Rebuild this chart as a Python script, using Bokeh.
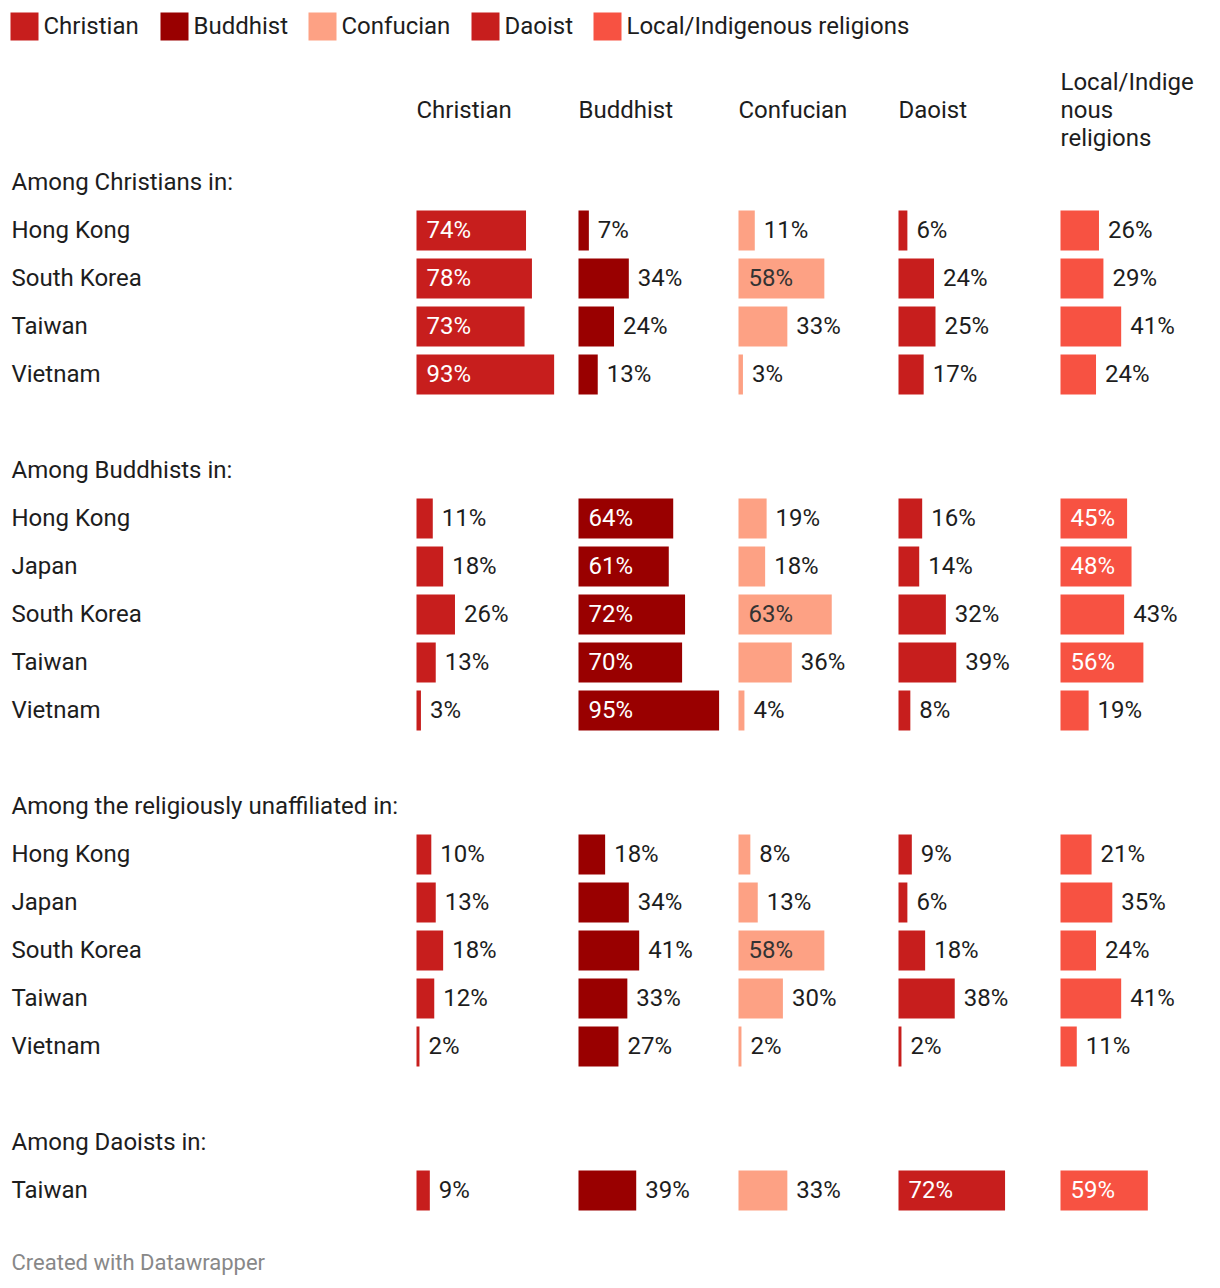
from bokeh.plotting import figure
from bokeh.models import Range1d, ColumnDataSource
from bokeh.core.properties import value
from bokeh.embed import file_html
from bokeh.resources import INLINE

# ---------------- data ----------------
religions = ["Christian", "Buddhist", "Confucian", "Daoist", "Local/Indigenous religions"]
header_lines = [["Christian"], ["Buddhist"], ["Confucian"], ["Daoist"], ["Local/Indige", "nous", "religions"]]
colors = ["#c71e1d", "#990000", "#fda184", "#c71e1d", "#f75242"]
label_inside_colors = ["#ffffff", "#ffffff", "#333333", "#ffffff", "#ffffff"]

group_titles = ["Among Christians in:", "Among Buddhists in:",
                "Among the religiously unaffiliated in:", "Among Daoists in:"]
group_rows = [
    ["Hong Kong", "South Korea", "Taiwan", "Vietnam"],
    ["Hong Kong", "Japan", "South Korea", "Taiwan", "Vietnam"],
    ["Hong Kong", "Japan", "South Korea", "Taiwan", "Vietnam"],
    ["Taiwan"],
]
christians = {
    "Christian": [74, 78, 73, 93],
    "Buddhist": [7, 34, 24, 13],
    "Confucian": [11, 58, 33, 3],
    "Daoist": [6, 24, 25, 17],
    "Local/Indigenous religions": [26, 29, 41, 24],
}
buddhists = {
    "Christian": [11, 18, 26, 13, 3],
    "Buddhist": [64, 61, 72, 70, 95],
    "Confucian": [19, 18, 63, 36, 4],
    "Daoist": [16, 14, 32, 39, 8],
    "Local/Indigenous religions": [45, 48, 43, 56, 19],
}
unaffiliated = {
    "Christian": [10, 13, 18, 12, 2],
    "Buddhist": [18, 34, 41, 33, 27],
    "Confucian": [8, 13, 58, 30, 2],
    "Daoist": [9, 6, 18, 38, 2],
    "Local/Indigenous religions": [21, 35, 24, 41, 11],
}
daoists = {
    "Christian": [9],
    "Buddhist": [39],
    "Confucian": [33],
    "Daoist": [72],
    "Local/Indigenous religions": [59],
}
group_values = [christians, buddhists, unaffiliated, daoists]

# ---------------- layout ----------------
W, H = 1204, 1280
FONT = value("Roboto")
FS = "24px"
TXT = "#1d1d1d"
DY = -1  # small vertical nudge for text
DX = -1

p = figure(width=W, height=H, x_range=Range1d(0, W), y_range=Range1d(H, 0),
           output_backend="svg", toolbar_location=None, min_border=0,
           background_fill_color="white", border_fill_color="white")
p.axis.visible = False
p.grid.visible = False
p.outline_line_color = None

col_x = [416, 578, 738, 898, 1060]
px_per_pct = 1.48
bar_h = 40
row_step = 48

# legend
leg_x = [10, 160, 308, 471, 593]
for i, r in enumerate(religions):
    p.quad(left=[leg_x[i]], right=[leg_x[i] + 28], top=[12], bottom=[40], fill_color=colors[i], line_color=None)
    p.text(x=[leg_x[i] + 34 + DX], y=[26 + DY], text=[r], text_font=FONT, text_font_size=FS,
           text_color=TXT, text_baseline="middle", text_align="left")

# column headers
for i, lines in enumerate(header_lines):
    n = len(lines)
    ys = [110 + DY + (k - (n - 1) / 2) * 28 for k in range(n)]
    p.text(x=[col_x[i] + 1 + DX] * n, y=ys, text=lines, text_font=FONT, text_font_size=FS,
           text_color=TXT, text_baseline="middle", text_align="left")

# groups
y = 182
for gi, title in enumerate(group_titles):
    p.text(x=[12 + DX], y=[y + DY], text=[title], text_font=FONT, text_font_size=FS,
           text_color=TXT, text_baseline="middle", text_align="left")
    rows = group_rows[gi]
    ys = [y + row_step * (k + 1) for k in range(len(rows))]
    p.text(x=[12 + DX] * len(rows), y=[yy + DY for yy in ys], text=rows, text_font=FONT, text_font_size=FS,
           text_color=TXT, text_baseline="middle", text_align="left")
    for ci, r in enumerate(religions):
        vals = group_values[gi][r]
        lefts = [col_x[ci]] * len(vals)
        rights = [col_x[ci] + v * px_per_pct for v in vals]
        src = ColumnDataSource(dict(left=lefts, right=rights,
                                    top=[yy - bar_h / 2 for yy in ys],
                                    bottom=[yy + bar_h / 2 for yy in ys]))
        p.quad(left="left", right="right", top="top", bottom="bottom", source=src,
               fill_color=colors[ci], line_color=None)
        lx, ltxt, lcol = [], [], []
        for v, rr in zip(vals, rights):
            if v >= 44:
                lx.append(col_x[ci] + 11 + DX)
                lcol.append(label_inside_colors[ci])
            else:
                lx.append(rr + 10 + DX)
                lcol.append(TXT)
            ltxt.append(f"{v}%")
        p.text(x=lx, y=[yy + DY for yy in ys], text=ltxt, text_color=lcol, text_font=FONT, text_font_size=FS,
               text_baseline="middle", text_align="left")
    y = ys[-1] + 96

# footer
p.text(x=[11], y=[1262], text=["Created with Datawrapper"], text_font=FONT, text_font_size="22px",
       text_color="#888888", text_baseline="middle", text_align="left")

open("out.html", "w").write(file_html(p, INLINE))
